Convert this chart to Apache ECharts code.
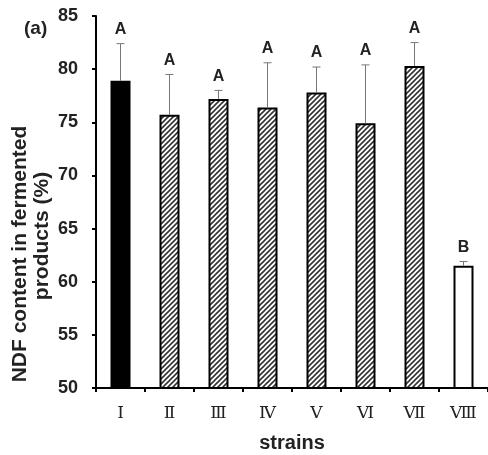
<!DOCTYPE html>
<html>
<head>
<meta charset="utf-8">
<script src="https://cdn.jsdelivr.net/npm/echarts@6/dist/echarts.min.js"></script>
<style>html,body{margin:0;padding:0;background:#fff}#c{width:488px;height:455px}</style>
</head>
<body>
<div id="c"></div>
<script>
const categories = ['Ⅰ','Ⅱ','Ⅲ','Ⅳ','Ⅴ','Ⅵ','Ⅶ','Ⅷ'];
const means = [78.9, 75.7, 77.2, 76.4, 77.8, 74.9, 80.3, 61.5];
const errs = [3.5, 3.8, 0.8, 4.2, 2.4, 5.5, 2.2, 0.4];
const letters = ['A','A','A','A','A','A','A','B'];
const yTicks = [50, 55, 60, 65, 70, 75, 80, 85];

function hatch(){
  const s = 5;
  const c = document.createElement('canvas'); c.width = s; c.height = s;
  const g = c.getContext('2d');
  g.fillStyle = '#fff'; g.fillRect(0,0,s,s);
  g.strokeStyle = '#333'; g.lineWidth = 1.6;
  g.beginPath();
  g.moveTo(0,s); g.lineTo(s,0);
  g.moveTo(-1,1); g.lineTo(1,-1);
  g.moveTo(s-1,s+1); g.lineTo(s+1,s-1);
  g.stroke();
  return {image: c, repeat: 'repeat'};
}
const hatchFill = hatch();
const fills = means.map((v,i)=> i===0 ? '#000' : (i===means.length-1 ? '#fff' : hatchFill));

const chart = echarts.init(document.getElementById('c'), null, {renderer:'canvas'});
chart.setOption({
  animation: false,
  grid: {left: 96, right: 0, top: 16, bottom: 67, containLabel: false, outerBoundsMode: 'none'},
  xAxis: {
    type: 'category', data: categories,
    axisLine: {lineStyle: {color: '#000', width: 2}},
    axisTick: {show: true, length: 4, lineStyle: {color: '#000', width: 2}},
    axisLabel: {fontFamily: "'DejaVu Serif','Noto Sans CJK SC',serif", fontSize: 17, color: '#222', margin: 17},
    name: 'strains', nameLocation: 'middle', nameGap: 45,
    nameTextStyle: {fontFamily: "'Liberation Sans',Arial,sans-serif", fontWeight: 'bold', fontSize: 20, color: '#222'}
  },
  yAxis: {
    type: 'value', min: 50, max: 85, interval: 5,
    axisLine: {show: true, lineStyle: {color: '#000', width: 2}},
    axisTick: {show: true, length: 4, lineStyle: {color: '#000', width: 2}},
    splitLine: {show: false},
    axisLabel: {fontFamily: "'Liberation Sans',Arial,sans-serif", fontWeight: 'bold', fontSize: 18, color: '#222', margin: 18,
      formatter: v => yTicks.includes(v) ? String(v) : ''}
  },
  graphic: [
    {type: 'text', left: 24, top: 19, style: {text: '(a)', fontFamily: "'Liberation Sans',Arial,sans-serif", fontWeight: 'bold', fontSize: 19, fill: '#222'}},
    {type: 'text', x: 20, y: 254, rotation: Math.PI/2, style: {text: 'NDF content in fermented', fontFamily: "'Liberation Sans',Arial,sans-serif", fontWeight: 'bold', fontSize: 21, fill: '#222', align: 'center', verticalAlign: 'middle'}},
    {type: 'text', x: 42, y: 236, rotation: Math.PI/2, style: {text: 'products (%)', fontFamily: "'Liberation Sans',Arial,sans-serif", fontWeight: 'bold', fontSize: 21, fill: '#222', align: 'center', verticalAlign: 'middle'}}
  ],
  series: [
    {
      type: 'bar', barWidth: 20,
      data: means.map((v,i)=>({value: v, itemStyle: {color: fills[i], borderColor: '#000', borderWidth: 2}})),
      z: 2
    },
    {
      type: 'custom', z: 3,
      renderItem: function(params, api){
        const i = api.value(0);
        const m = api.value(1), e = api.value(2);
        const p0 = api.coord([i, m]);
        const p1 = api.coord([i, m + e]);
        const hw = 4;
        return {type: 'group', children: [
          {type: 'line', shape: {x1: p0[0], y1: p0[1], x2: p1[0], y2: p1[1]}, style: {stroke: '#777', lineWidth: 1}},
          {type: 'line', shape: {x1: p1[0]-hw, y1: p1[1], x2: p1[0]+hw, y2: p1[1]}, style: {stroke: '#777', lineWidth: 1}},
          {type: 'text', x: p1[0], y: p1[1] - 14, style: {text: letters[i], fontFamily: "'Liberation Sans',Arial,sans-serif", fontWeight: 'bold', fontSize: 16, fill: '#222', align: 'center', verticalAlign: 'middle'}}
        ]};
      },
      data: means.map((v,i)=>[i, v, errs[i]])
    }
  ]
});
</script>
</body>
</html>
